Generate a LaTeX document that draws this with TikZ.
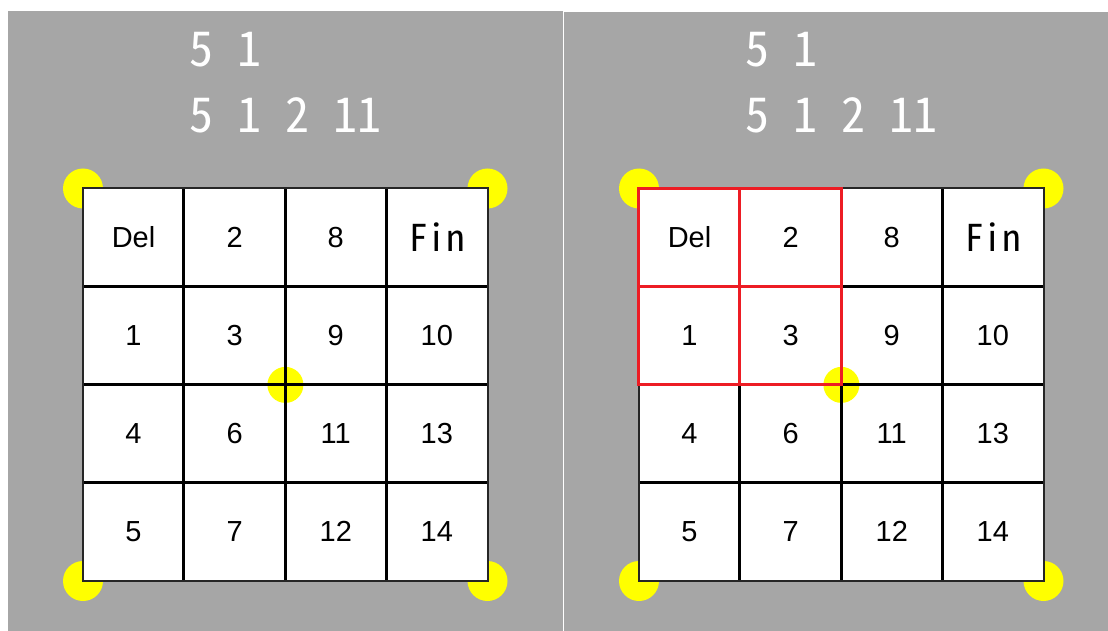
\documentclass[tikz,border=0pt]{standalone}
\usepackage{fontspec}
\setmainfont{Liberation Sans}
\newfontfamily\gothic[RawFeature=+hwid]{Noto Sans CJK JP}
\definecolor{panelgray}{HTML}{A6A6A6}
\definecolor{hired}{HTML}{ED1C24}
\definecolor{dotyellow}{HTML}{FFFF00}
\tikzset{
  panel/.style={fill=panelgray},
  gcell/.style={rectangle, fill=white, inner sep=0pt, minimum width=101.1pt, minimum height=98.1pt, font=\fontsize{29}{29}\selectfont},
  fincell/.style={gcell, font=\gothic\fontsize{37}{37}\selectfont},
  gridline/.style={line width=3pt, black},
  border/.style={line width=2pt, black!85},
  dot/.style={fill=dotyellow},
  redline/.style={line width=3pt, hired},
  toptext/.style={anchor=base west, inner sep=0pt, text=white, font=\gothic\fontsize{48}{48}\selectfont}
}
\begin{document}
\begin{tikzpicture}[x=1pt,y=-1pt]
\useasboundingbox (0,0) rectangle (1108,631);
\fill[white] (0,0) rectangle (1108,631);
\fill[panel] (8,11) rectangle (562.5,631);
\fill[panel] (564,12) rectangle (1108,631);
\foreach \p/\dx in {L/0,R/556} {
  \begin{scope}[xshift=\dx pt]
    \node[toptext] (\p-t1) at (189,66.5) {5 1};
    \node[toptext] (\p-t2) at (189,133) {5 1 2 11};
    \foreach \cx/\cy in {83/188.5,487.5/188.5,83/581,487.5/581}
      \fill[dot] (\cx,\cy) circle[radius=20pt];
    \foreach \t/\st [count=\i from 0] in {Del/gcell,2/gcell,8/gcell,Fin/fincell,1/gcell,3/gcell,9/gcell,10/gcell,4/gcell,6/gcell,11/gcell,13/gcell,5/gcell,7/gcell,12/gcell,14/gcell} {
      \pgfmathtruncatemacro\row{\i/4}
      \pgfmathtruncatemacro\col{mod(\i,4)}
      \node[\st] (\p-\row-\col) at ({83+101.1*(\col+0.5)},{188.5+98.1*(\row+0.5)}) {\t};
    }
    \fill[dot] (\p-1-1.south east) circle[radius=18pt];
    \foreach \c in {1,2,3}
      \draw[gridline] (\p-0-\c.north west) -- (\p-3-\c.south west);
    \foreach \r in {1,2,3}
      \draw[gridline] (\p-\r-0.north west) -- (\p-\r-3.north east);
    \draw[border] (\p-0-0.north west) rectangle (\p-3-3.south east);
  \end{scope}
}
\draw[redline] (R-0-0.north west) rectangle (R-1-1.south east);
\draw[redline] (R-0-1.north west) -- (R-1-1.south west);
\draw[redline] (R-1-0.north west) -- (R-1-1.north east);
\end{tikzpicture}
\end{document}
